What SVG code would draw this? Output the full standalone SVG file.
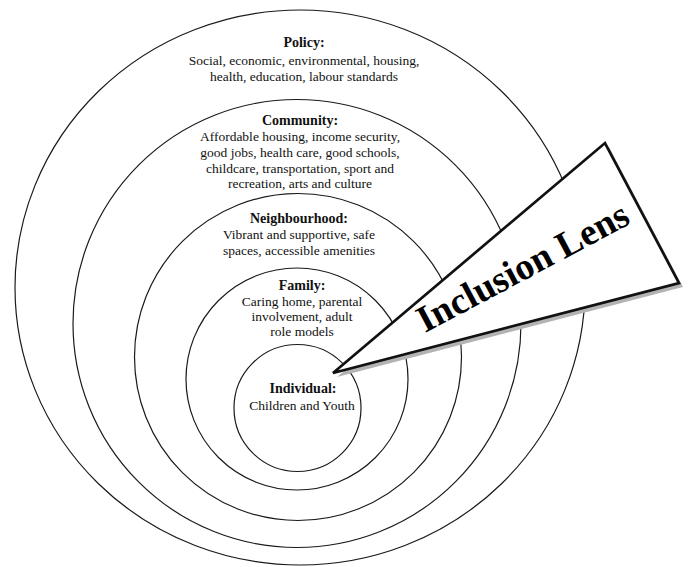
<svg xmlns="http://www.w3.org/2000/svg" width="691" height="567" viewBox="0 0 691 567">
<style>
.ring{fill:none;stroke:#1a1a1a;stroke-width:1.2}
.t{font-family:"Liberation Serif","Times New Roman",serif;font-size:13.5px;fill:#111;text-anchor:middle}
.b{font-weight:bold;font-size:14px}
.lens{fill:#fff;stroke:#111;stroke-width:2.7;stroke-linejoin:miter}
.shadow{fill:#b3b3b3}
.lt{font-family:"Liberation Serif","Times New Roman",serif;font-weight:bold;font-size:37.5px;fill:#000;text-anchor:middle}
</style>
<rect width="691" height="567" fill="#fff"/>
<g id="policy">
<ellipse class="ring" cx="300" cy="287.5" rx="285" ry="277.5"/>
<text class="t b" x="304" y="47">Policy:</text>
<text class="t" x="304" y="65">Social, economic, environmental, housing,</text>
<text class="t" x="304" y="81">health, education, labour standards</text>
</g>
<g id="community">
<circle class="ring" cx="297" cy="323.5" r="224"/>
<text class="t b" x="300" y="124.5">Community:</text>
<text class="t" x="300" y="140.5">Affordable housing, income security,</text>
<text class="t" x="300" y="156.5">good jobs, health care, good schools,</text>
<text class="t" x="300" y="172.5">childcare, transportation, sport and</text>
<text class="t" x="300" y="188">recreation, arts and culture</text>
</g>
<g id="neighbourhood">
<circle class="ring" cx="298" cy="357" r="163.5"/>
<text class="t b" x="299" y="222.5">Neighbourhood:</text>
<text class="t" x="299" y="238.5">Vibrant and supportive, safe</text>
<text class="t" x="299" y="254.5">spaces, accessible amenities</text>
</g>
<g id="family">
<circle class="ring" cx="297" cy="379" r="111"/>
<text class="t b" x="302" y="289.5">Family:</text>
<text class="t" x="302" y="305.5">Caring home, parental</text>
<text class="t" x="302" y="321">involvement, adult</text>
<text class="t" x="302" y="336">role models</text>
</g>
<g id="individual">
<circle class="ring" cx="297.5" cy="408" r="63.5"/>
<text class="t b" x="303" y="392.5">Individual:</text>
<text class="t" x="302" y="409.5">Children and Youth</text>
</g>
<g id="inclusion-lens">
<polygon class="shadow" points="337,377 609,147 683,287"/>
<polygon class="lens" points="333,373 605,143 679,283"/>
<text class="lt" x="528.5" y="278" transform="rotate(-28 528.5 278)">Inclusion Lens</text>
</g>
<g id="connectors"></g>
</svg>
